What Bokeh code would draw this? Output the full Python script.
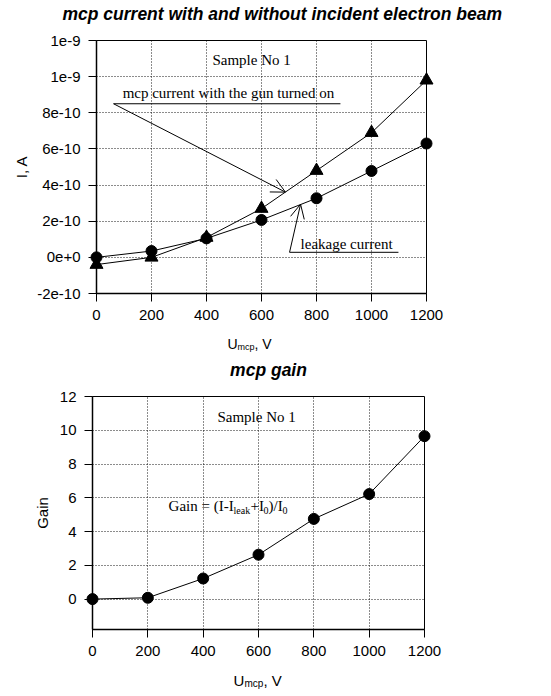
from bokeh.plotting import figure
from bokeh.models import Range1d, FixedTicker, Label, Arrow, OpenHead
from bokeh.core.properties import value
from bokeh.embed import file_html
from bokeh.resources import INLINE

# ---------------- data ----------------
voltage = [0, 200, 400, 600, 800, 1000, 1200]                 # U_mcp, V
current_gun_on = [-0.4, 0.0, 1.1, 2.7, 4.8, 6.9, 9.8]          # I, units of 1e-10 A
leakage_current = [0.0, 0.35, 1.05, 2.07, 3.27, 4.78, 6.3]     # I, units of 1e-10 A
gain = [0.0, 0.08, 1.22, 2.63, 4.75, 6.22, 9.65]

voltage_ticks = [0, 200, 400, 600, 800, 1000, 1200]
current_ticks = [-2, 0, 2, 4, 6, 8, 10, 12]
current_tick_labels = ["-2e-10", "0e+0", "2e-10", "4e-10", "6e-10", "8e-10", "1e-9", "1e-9"]
gain_ticks = [0, 2, 4, 6, 8, 10, 12]

SANS = "Liberation Sans"
SERIF = "Liberation Serif"
W = 551


def style(p, yticks, overrides=None):
    p.xaxis.ticker = FixedTicker(ticks=voltage_ticks)
    p.yaxis.ticker = FixedTicker(ticks=yticks)
    p.xgrid.ticker = p.xaxis[0].ticker
    p.ygrid.ticker = p.yaxis[0].ticker
    if overrides:
        p.yaxis.major_label_overrides = overrides
    for ax in p.axis:
        ax.major_tick_out = 8
        ax.major_tick_in = 0
        ax.minor_tick_out = 0
        ax.minor_tick_in = 0
        ax.axis_line_color = "black"
        ax.axis_line_width = 1.5
        ax.major_tick_line_color = "black"
        ax.major_tick_line_width = 1
        ax.major_label_text_font = SANS
        ax.major_label_text_font_size = "15px"
        ax.major_label_text_color = "black"
        ax.major_label_standoff = 8
        ax.axis_label_text_font = SANS
        ax.axis_label_text_font_size = "15px"
        ax.axis_label_text_font_style = "normal"
        ax.axis_label_text_color = "black"
    for g in p.grid:
        g.grid_line_color = "black"
        g.grid_line_dash = "1 2"
        g.grid_line_width = 1
        g.grid_line_alpha = 0.9
    p.outline_line_color = "black"
    p.outline_line_width = 1
    p.background_fill_color = "white"
    p.border_fill_color = "white"


def lbl(p, x, y, text, font=SERIF, size="15px", align="left", baseline="middle", xoff=0):
    p.add_layout(Label(x=x, y=y, text=text, text_font=font, text_font_size=size,
                       text_align=align, text_baseline=baseline, x_offset=xoff,
                       text_color="black"))


def strip(height):
    s = figure(width=W, height=height, output_backend="svg", toolbar_location=None,
               title=None,
               x_range=Range1d(0, W), y_range=Range1d(height, 0),
               x_axis_type=None, y_axis_type=None,
               min_border_left=0, min_border_right=0, min_border_top=0, min_border_bottom=0)
    s.grid.visible = False
    s.outline_line_color = None
    s.background_fill_color = "white"
    s.border_fill_color = "white"
    return s


def stext(s, x, y, text, font=SANS, size="14px", style_="normal", align="left"):
    s.text(x=[x], y=[y], text=[text], text_font=value(font), text_font_size=size,
           text_font_style=style_, text_align=align, text_baseline="alphabetic",
           text_color="black")


# ---------------- strip: title of fig 1 ----------------
S0 = 27
s0 = strip(S0)
stext(s0, 62, 13, "mcp current with and without incident electron beam",
      size="17.5px", style_="bold italic")

# ---------------- figure 1: mcp current ----------------
H1 = 303
top1 = 40 - S0
p1 = figure(width=W, height=H1, output_backend="svg", toolbar_location=None, title=None,
            x_range=Range1d(0, 1200), y_range=Range1d(-2, 12),
            min_border_left=96, min_border_right=W - 426,
            min_border_top=top1, min_border_bottom=H1 - top1 - 253)
style(p1, current_ticks, dict(zip(current_ticks, current_tick_labels)))
p1.yaxis.axis_label = "I, A"
p1.yaxis.axis_label_standoff = 4

p1.line(voltage, current_gun_on, line_color="black", line_width=1)
p1.line(voltage, leakage_current, line_color="black", line_width=1)
p1.scatter(voltage, current_gun_on, marker="triangle", size=13, color="black", level="overlay")
p1.scatter(voltage, leakage_current, marker="circle", size=11, color="black", level="overlay")

lbl(p1, 564, 10.94, "Sample No 1", align="center")
lbl(p1, 95, 9.1, "mcp current with the gun turned on")
p1.segment(x0=[62], y0=[8.5], x1=[887], y1=[8.5], line_color="black", line_width=1)
p1.add_layout(Arrow(end=OpenHead(size=14, line_width=1, line_color="black"),
                    x_start=62, y_start=8.5, x_end=687, y_end=3.61,
                    line_color="black", line_width=1))
lbl(p1, 742, 0.72, "leakage current")
p1.segment(x0=[702], y0=[0.28], x1=[1098], y1=[0.28], line_color="black", line_width=1)
p1.add_layout(Arrow(end=OpenHead(size=14, line_width=1, line_color="black"),
                    x_start=702, y_start=0.28, x_end=742, y_end=2.94,
                    line_color="black", line_width=1))

# ---------------- strip: x label of fig 1 + title of fig 2 ----------------
S1 = 55
s1 = strip(S1)
stext(s1, 227, 13, "U", size="14px")
stext(s1, 237, 16, "mcp", size="9px")
stext(s1, 254, 13, ", V", size="14px")
stext(s1, 268, 39, "mcp gain", size="17.5px", style_="bold italic", align="center")

# ---------------- figure 2: mcp gain ----------------
H2 = 280
top2 = 11
p2 = figure(width=W, height=H2, output_backend="svg", toolbar_location=None, title=None,
            x_range=Range1d(0, 1200), y_range=Range1d(-1.8, 12),
            min_border_left=92, min_border_right=W - 424,
            min_border_top=top2, min_border_bottom=H2 - top2 - 233)
style(p2, gain_ticks)
p2.yaxis.axis_label = "Gain"
p2.yaxis.axis_label_standoff = 6

p2.line(voltage, gain, line_color="black", line_width=1)
p2.scatter(voltage, gain, marker="circle", size=11, color="black", level="overlay")

lbl(p2, 593, 10.8, "Sample No 1", align="center")
gx, gy, gys = 275, 5.5, 5.25
lbl(p2, gx, gy, "Gain = (I-I", baseline="alphabetic")
lbl(p2, gx, gys, "leak", size="10px", baseline="alphabetic", xoff=65)
lbl(p2, gx, gy, "+I", baseline="alphabetic", xoff=82)
lbl(p2, gx, gys, "0", size="10px", baseline="alphabetic", xoff=95)
lbl(p2, gx, gy, ")/I", baseline="alphabetic", xoff=100)
lbl(p2, gx, gys, "0", size="10px", baseline="alphabetic", xoff=114)

# ---------------- strip: x label of fig 2 ----------------
S2 = 696 - S0 - H1 - S1 - H2
s2 = strip(S2)
stext(s2, 233, 15, "U", size="15px")
stext(s2, 244, 18, "mcp", size="10px")
stext(s2, 263, 15, ", V", size="15px")

open("out.html", "w").write(file_html([s0, p1, s1, p2, s2], INLINE))
